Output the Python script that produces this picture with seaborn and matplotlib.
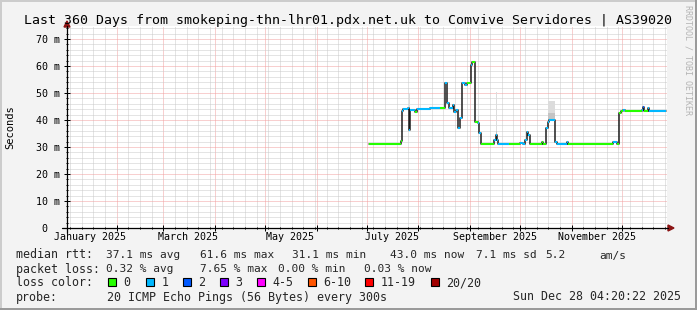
import datetime as dt
import numpy as np
import pandas as pd
import matplotlib
matplotlib.use("Agg")
import matplotlib.pyplot as plt
import seaborn as sns
from matplotlib.patches import Rectangle, Polygon
from matplotlib.lines import Line2D
from matplotlib.transforms import blended_transform_factory

# ---------------- data ----------------
title = "Last 360 Days from smokeping-thn-lhr01.pdx.net.uk to Comvive Servidores | AS39020"
end_time = dt.datetime(2025, 12, 28, 4, 20, 22)
span_days = 360

# median rtt step segments (day offset from graph start), value in ms, loss level
seg_start = [181.4, 200.2, 200.8, 201.4, 204.8, 205.4, 206.0, 208.8, 209.8, 217.8,
             224.0, 226.8, 227.8, 229.0, 230.4, 231.4, 232.4, 233.4, 234.4, 235.8,
             237.2, 238.8, 239.8, 242.2, 243.0, 244.8, 246.8, 247.4, 248.2, 256.2,
             257.2, 258.0, 258.8, 265.0, 271.8, 273.8, 274.8, 275.8, 276.8, 277.8,
             284.8, 285.8, 287.2, 288.4, 289.2, 292.6, 293.8, 299.8, 300.8, 327.8,
             329.8, 331.4, 332.2, 333.8, 335.0, 344.8, 345.4, 346.2, 348.4, 349.4]
seg_last_end = 359.4
rtt_ms = [31.2, 32.3, 43.3, 43.9, 44.3, 36.3, 43.7, 43.1, 43.9, 44.6,
          44.6, 53.6, 46.2, 44.6, 44.3, 45.6, 43.1, 43.7, 36.9, 40.9,
          53.6, 53.0, 53.6, 60.4, 61.6, 39.4, 38.8, 35.1, 31.2, 32.6,
          34.4, 32.6, 31.2, 31.2, 31.6, 31.2, 32.6, 35.7, 34.4, 31.2,
          31.7, 31.2, 36.9, 39.4, 40.0, 32.0, 31.2, 31.7, 31.2, 32.0,
          31.2, 42.5, 43.3, 43.7, 43.2, 43.7, 44.9, 43.2, 44.6, 43.2]
loss_level = [0, 0, 1, 1, 1, 1, 1, 0, 1, 1,
              0, 1, 1, 1, 1, 1, 1, 1, 1, 1,
              1, 1, 0, 1, 0, 0, 1, 1, 0, 1,
              1, 1, 1, 0, 1, 1, 1, 1, 1, 0,
              0, 0, 1, 1, 1, 1, 1, 1, 0, 1,
              0, 0, 0, 1, 0, 1, 2, 0, 1, 1]

# smoke (ping spread) bands
smoke_start = [205.2, 246.4, 257.2, 288.6]
smoke_end = [206.0, 247.4, 258.0, 292.6]
smoke_lo = [36.3, 38.8, 34.4, 40.0]
smoke_mid = [44.5, 40.0, 36.0, 42.6]
smoke_hi = [50.0, 41.5, 50.2, 46.9]

loss_labels = ["0", "1", "2", "3", "4-5", "6-10", "11-19", "20/20"]
loss_colors = ["#26ff00", "#00b8ff", "#0059ff", "#7e00ff", "#ff00ff", "#ff5500", "#ff0000", "#a10000"]

month_label_names = ["January 2025", "March 2025", "May 2025", "July 2025", "September 2025", "November 2025"]
month_label_months = [1, 3, 5, 7, 9, 11]
ytick_values = [0, 10, 20, 30, 40, 50, 60, 70]
ytick_labels = ["0", "10 m", "20 m", "30 m", "40 m", "50 m", "60 m", "70 m"]

legend_rtt_label = "median rtt:"
legend_rtt = [("37.1 ms avg", 107), ("61.6 ms max", 200), ("31.1 ms min", 293),
              ("43.0 ms now", 391), ("7.1 ms sd", 476), ("5.2", 546), ("am/s", 600)]
legend_loss_label = "packet loss:"
legend_loss = [("0.32 % avg", 107), ("7.65 % max", 200), ("0.00 % min", 279),
               ("0.03 % now", 365)]
loss_box_x = [108, 146, 183, 220, 257, 308, 365, 431]
probe_text = "20 ICMP Echo Pings (56 Bytes) every 300s"
date_text = "Sun Dec 28 04:20:22 2025"

# ---------------- figure ----------------
W, H = 697, 310
sns.set_theme(style="white")
plt.rcParams["font.family"] = ["DejaVu Sans Mono", "DejaVu Sans"]

fig = plt.figure(figsize=(W / 100, H / 100), dpi=100, facecolor="#f3f3f3")
PL, PR, PT, PB = 67, 667, 25.5, 228
ax = fig.add_axes([PL / W, 1 - PB / H, (PR - PL) / W, (PB - PT) / H])
ax.set_facecolor("white")
ax.set_xlim(0, span_days)
ax.set_ylim(0, 75)

def fx(x):
    return x / W

def fy(y):
    return 1 - y / H

start_time = end_time - dt.timedelta(days=span_days)

def day_of(t):
    return (t - start_time).total_seconds() / 86400.0

month_starts = [day_of(dt.datetime(2025, m, 1)) for m in range(2, 13)]
weeks = []
t = dt.datetime(2025, 1, 4)
while t < end_time:
    weeks.append(day_of(t))
    t += dt.timedelta(days=7)

# grid
ax.set_xticks(month_starts)
ax.set_xticks(weeks, minor=True)
ax.set_yticks(ytick_values)
ax.set_yticks(np.arange(0, 76, 2), minor=True)
ax.set_xticklabels([])
ax.set_yticklabels([])
ax.set_axisbelow(True)
ax.grid(which="minor", color="#cacaca", lw=0.72, ls=(0, (1, 1)))
ax.grid(which="major", color="#f2a0a0", lw=0.72, ls=(0, (1, 1)))
ax.tick_params(which="major", direction="inout", length=4, width=0.72, color="black",
               left=True, bottom=True)
ax.tick_params(which="minor", direction="inout", length=2, width=0.72, color="black",
               left=True, bottom=True)
for s in ax.spines.values():
    s.set_visible(False)

# smoke
for s0, s1, lo, mid, hi in zip(smoke_start, smoke_end, smoke_lo, smoke_mid, smoke_hi):
    ax.fill_between([s0, s1], [lo, lo], [hi, hi], color="#dcdcdc", lw=0, zorder=2)
    ax.fill_between([s0, s1], [lo, lo], [mid, mid], color="#c4c4c4", lw=0, zorder=2)

# black step line
df = pd.DataFrame({"day": seg_start + [seg_last_end], "rtt": rtt_ms + [rtt_ms[-1]]})
sns.lineplot(data=df, x="day", y="rtt", ax=ax, color="#1e1e1e", lw=1.1,
             drawstyle="steps-post", estimator=None, sort=False, zorder=3, legend=False)
ax.set_xlabel("")
ax.set_ylabel("")

# coloured median segments
seg_end = seg_start[1:] + [seg_last_end]
ax.hlines(rtt_ms, seg_start, seg_end, colors=[loss_colors[l] for l in loss_level],
          lw=1.5, zorder=4, capstyle="butt")

# axis lines and arrows
fig.add_artist(Line2D([fx(62), fx(668)], [fy(228), fy(228)], color="black", lw=0.9))
fig.add_artist(Line2D([fx(67), fx(67)], [fy(233), fy(26)], color="black", lw=0.9))
fig.add_artist(Polygon([[fx(668), fy(225)], [fx(674), fy(228)], [fx(668), fy(231)]],
                       closed=True, color="#8b1414", transform=fig.transFigure))
fig.add_artist(Polygon([[fx(64), fy(27)], [fx(67), fy(21)], [fx(70), fy(27)]],
                       closed=True, color="#8b1414", transform=fig.transFigure))

# tick labels
ytr = blended_transform_factory(fig.transFigure, ax.transData)
for v, lab in zip(ytick_values, ytick_labels):
    xr = 60 if lab != "0" else 47.5
    ax.text(fx(xr), v, lab, transform=ytr, ha="right", va="center_baseline",
            fontsize=7.2, color="#000000", clip_on=False)
xtr = blended_transform_factory(ax.transData, fig.transFigure)
for m, lab in zip(month_label_months, month_label_names):
    pos = day_of(dt.datetime(2025, m, 1)) + 15
    ax.text(pos, fy(240.5), lab, transform=xtr, ha="center", va="baseline",
            fontsize=7.2, color="#000000", clip_on=False)

# title, y label, watermark
fig.text(fx(348), fy(24), title, ha="center", va="baseline", fontsize=9.5, color="#000000")
fig.text(fx(10), fy(127), "Seconds", rotation=90, ha="center", va="center", fontsize=7.5,
         color="#000000")
fig.text(fx(688), fy(60), "RRDTOOL / TOBI OETIKER", rotation=270, ha="center", va="center",
         fontsize=6, color="#b4b4b4")

# legend lines
LF = 8.4
VF = 8.0
fig.text(fx(15.5), fy(258.5), legend_rtt_label, ha="left", va="baseline", fontsize=LF)
for s, x in legend_rtt:
    fig.text(fx(x - 0.5), fy(258.5), s, ha="left", va="baseline", fontsize=VF)
fig.text(fx(15.5), fy(272.5), legend_loss_label, ha="left", va="baseline", fontsize=LF)
for s, x in legend_loss:
    fig.text(fx(x - 0.5), fy(272.5), s, ha="left", va="baseline", fontsize=VF)
fig.text(fx(15.5), fy(286.5), "loss color:", ha="left", va="baseline", fontsize=LF)
for bx, col, lab in zip(loss_box_x, loss_colors, loss_labels):
    fig.add_artist(Rectangle((fx(bx), fy(286)), 8 / W, 8 / H, facecolor=col,
                             edgecolor="black", lw=0.8, transform=fig.transFigure))
    fig.text(fx(bx + 15.5), fy(286.5), lab, ha="left", va="baseline", fontsize=LF)
fig.text(fx(15.5), fy(300.5), "probe:", ha="left", va="baseline", fontsize=LF)
fig.text(fx(106.8), fy(300.5), probe_text, ha="left", va="baseline", fontsize=LF)
fig.text(fx(681), fy(300.5), date_text, ha="right", va="baseline", fontsize=LF)

# 3D frame
fig.add_artist(Rectangle((0, 0), fx(2), 1, facecolor="#cccccc", lw=0, transform=fig.transFigure))
fig.add_artist(Rectangle((0, fy(2)), 1, 2 / H, facecolor="#cccccc", lw=0, transform=fig.transFigure))
fig.add_artist(Rectangle((fx(695), 0), 2 / W, 1, facecolor="#9a9a9a", lw=0, transform=fig.transFigure))
fig.add_artist(Rectangle((0, 0), 1, 2 / H, facecolor="#9a9a9a", lw=0, transform=fig.transFigure))

fig.savefig("out.png", dpi=100, facecolor=fig.get_facecolor())
